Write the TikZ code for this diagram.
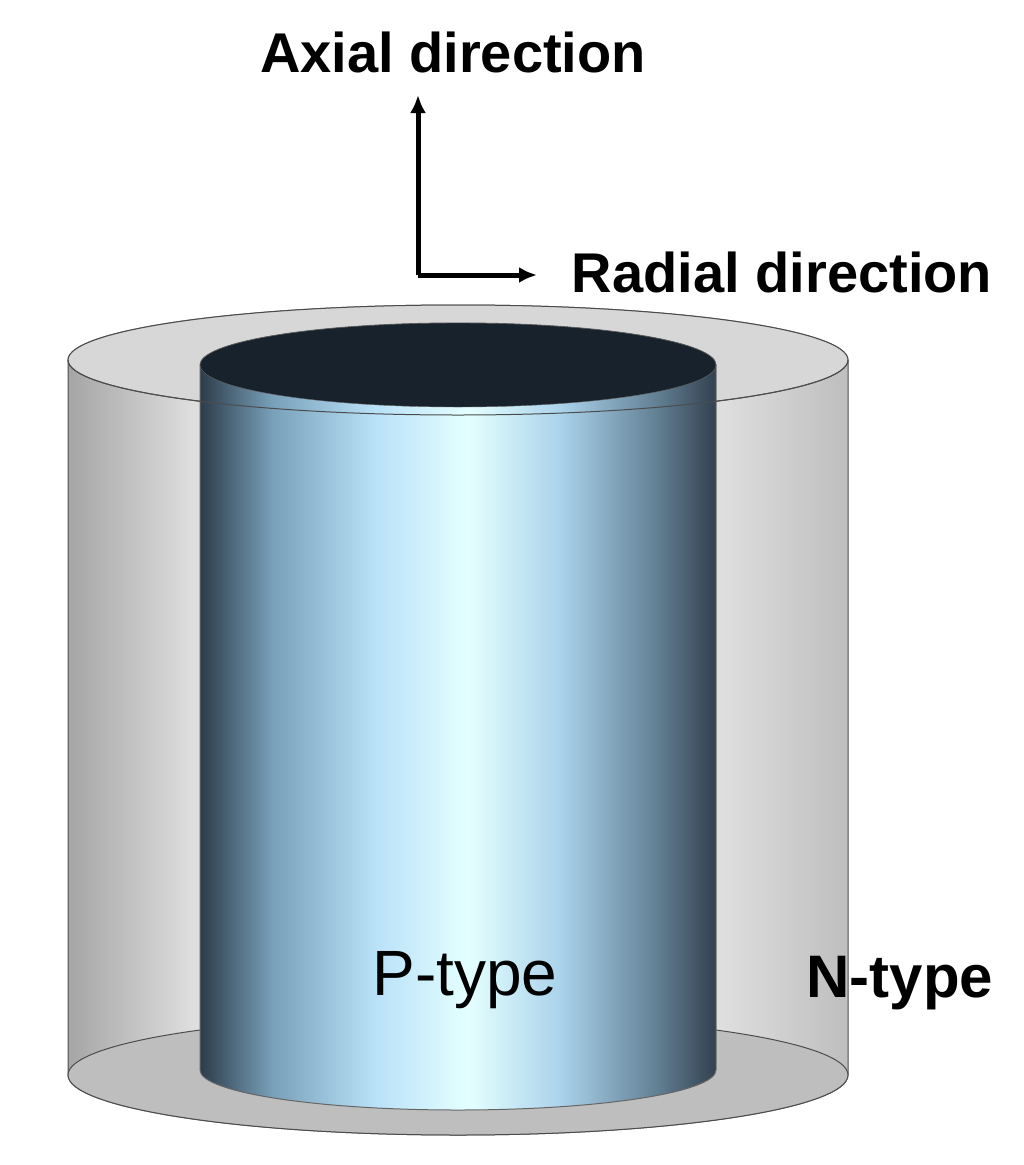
\documentclass[tikz,border=0pt]{standalone}
\usepackage{fontspec}
\setmainfont{Liberation Sans}
\definecolor{ia}{RGB}{45,60,75}
\definecolor{ib}{RGB}{120,160,185}
\definecolor{ic}{RGB}{185,225,248}
\definecolor{id}{RGB}{228,255,255}
\definecolor{ie}{RGB}{170,210,235}
\definecolor{if}{RGB}{100,130,150}
\definecolor{ig}{RGB}{50,65,80}
\definecolor{oa}{RGB}{165,165,165}
\definecolor{ob}{RGB}{222,222,222}
\definecolor{oc}{RGB}{190,190,190}
\pgfdeclarehorizontalshading{innersh}{100bp}{color(0bp)=(ia); color(25bp)=(ia); color(32bp)=(ib); color(42bp)=(ic); color(51bp)=(id); color(60bp)=(ie); color(69bp)=(if); color(75bp)=(ig); color(100bp)=(ig)}
\pgfdeclarehorizontalshading{outersh}{100bp}{color(0bp)=(oa); color(25bp)=(oa); color(33bp)=(ob); color(67bp)=(ob); color(75bp)=(oc); color(100bp)=(oc)}
\tikzset{edge/.style={draw=black!70,line width=1pt},
lbl/.style={font=\fontsize{56}{60}\selectfont\bfseries},
arr/.style={-{Latex[length=18pt,width=16pt]},line width=5pt}}
\usetikzlibrary{arrows.meta}
\begin{document}
\begin{tikzpicture}[x=1pt,y=-1pt]
\useasboundingbox[fill=white] (0,0) rectangle (1024,1165);
% outer cylinder
\path[shading=outersh,edge] (68,360) -- (68,1075) arc[start angle=180,end angle=0,x radius=390,y radius=60] -- (848,360) arc[start angle=0,end angle=-180,x radius=390,y radius=55] -- cycle;
\fill[edge,fill={rgb,255:red,190;green,190;blue,190}] (458,1075) ellipse [x radius=390,y radius=60];
\fill[edge,fill={rgb,255:red,215;green,215;blue,215}] (458,360) ellipse [x radius=390,y radius=55];
% inner cylinder
\path[shading=innersh,draw=black!60,line width=1pt] (200,365) -- (200,1070) arc[start angle=180,end angle=0,x radius=258,y radius=40] -- (716,365) arc[start angle=0,end angle=-180,x radius=258,y radius=42] -- cycle;
\fill[fill={rgb,255:red,24;green,34;blue,44},draw=black!60] (458,365) ellipse [x radius=258,y radius=42];
% outer top front edge
\draw[edge] (68,360) arc[start angle=180,end angle=0,x radius=390,y radius=55];
% axes
\coordinate (o) at (418,275);
\coordinate (up) at (418,95);
\coordinate (rt) at (537,275);
\draw[arr] (o) -- (up);
\draw[arr] (o) -- (rt);
\node[lbl] (ax) at (453,52) {Axial direction};
\node[lbl] (rd) at (782,272) {Radial direction};
\node[font=\fontsize{64}{68}\selectfont] (p) at (465,980) {P-type};
\node[lbl,font=\fontsize{60}{64}\selectfont\bfseries] (n) at (900,983) {N-type};
\end{tikzpicture}
\end{document}
